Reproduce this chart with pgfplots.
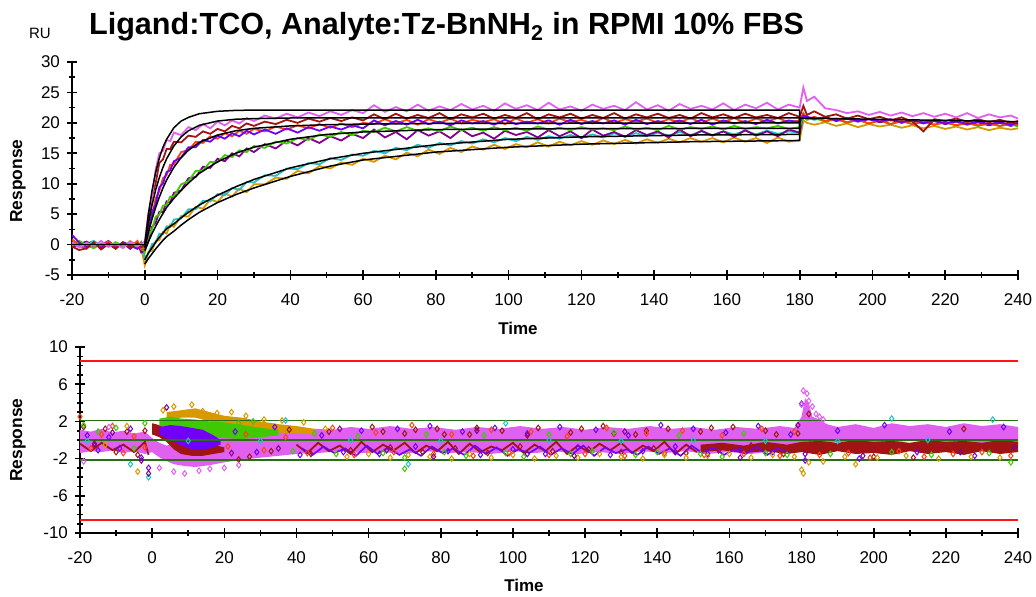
\documentclass[border=0pt]{standalone}
\usepackage{fontspec}
\setmainfont{Liberation Sans}
\usepackage{pgfplots}
\usepackage{pgfplotstable}
\pgfplotsset{compat=1.18}
\definecolor{cM}{RGB}{224,96,240}
\definecolor{cDR}{RGB}{160,20,20}
\definecolor{cRO}{RGB}{255,64,16}
\definecolor{cBV}{RGB}{112,0,248}
\definecolor{cG}{RGB}{64,200,0}
\definecolor{cP}{RGB}{128,0,144}
\definecolor{cC}{RGB}{32,192,200}
\definecolor{cGo}{RGB}{216,152,0}
\definecolor{cGL}{RGB}{40,110,20}
\definecolor{cRed}{RGB}{255,20,20}

\pgfplotstableread{
t M DR RO BV G P C Go
-20 0.4 -0.3 0.9 1.6 0.2 -0.5 0.3 -0.2
-18 -0.5 -0.9 -0.2 0.3 0.6 0.1 -0.4 0.5
-16 0.3 -0.6 -0.7 -0.4 -0.1 0.5 0.2 -0.3
-14 -0.2 0.4 0.3 0.1 -0.6 -0.3 0.6 0.2
-12 0.6 -0.8 -0.3 -0.5 0.2 -0.1 -0.2 -0.6
-10 -0.4 0.1 0.5 0.2 -0.3 0.6 0.1 0.3
-8 0.2 -0.7 -0.5 -0.6 0.4 -0.4 -0.5 -0.1
-6 -0.6 0.3 0.2 0.4 -0.2 0.2 0.4 -0.4
-4 0.5 -0.5 -0.4 -0.2 0.1 -0.7 -0.1 0.6
-2 -0.3 0.2 0.6 -0.7 -0.5 0.3 -0.3 -0.2
-1 0.1 -0.4 -0.8 0.2 0.4 -1.3 0.2 -0.5
0 0.5 -0.2 -0.8 -0.3 -1.3 -1.0 -2.2 -3.4
1 5.1 3.6 2.8 2.0 1.4 0.5 -1.5 -1.2
2 8.0 7.9 4.6 5.3 2.5 2.9 0.1 -1.0
3 12.3 10.1 7.6 6.6 4.6 3.6 0.3 0.6
4 15.0 13.4 8.8 9.4 4.9 5.4 1.8 0.7
5 15.4 14.0 10.9 10.0 6.4 5.3 1.7 2.1
6 17.2 15.7 11.4 11.9 6.5 7.1 3.0 1.8
7 17.0 15.7 13.1 12.2 7.9 6.9 2.9 3.3
8 18.4 16.9 13.2 13.7 7.9 8.5 4.1 2.9
10 18.0 16.8 15.2 14.3 9.9 8.9 4.3 4.7
12 19.3 17.9 15.5 16.0 10.4 10.9 5.8 4.6
14 18.8 17.7 16.9 16.0 12.1 11.1 5.8 6.2
16 19.8 18.6 16.7 17.2 12.2 12.8 7.2 5.9
18 19.1 18.2 17.8 16.9 13.6 12.6 7.1 7.4
20 20.2 19.0 17.4 17.9 13.5 14.1 8.3 7.0
22 19.6 18.6 18.3 17.4 14.7 13.7 8.1 8.4
24 20.4 19.5 17.8 18.3 14.4 15.0 9.3 7.9
26 19.9 19.1 18.7 17.8 15.5 14.5 9.0 9.2
28 20.8 19.9 18.2 18.7 15.2 15.8 10.3 8.6
30 20.3 19.5 19.0 18.1 16.2 15.2 10.2 9.9
33 21.2 20.2 18.6 18.9 15.9 16.5 11.4 9.9
36 20.7 19.8 19.4 18.2 16.9 15.8 11.3 11.0
39 21.5 20.5 18.9 19.1 16.6 17.1 12.5 10.8
42 20.9 20.0 19.6 18.4 17.5 16.3 12.4 12.1
45 21.7 20.7 19.1 19.3 17.2 17.5 13.4 11.7
48 21.1 20.2 19.8 18.7 18.1 16.7 13.2 12.9
51 21.9 20.8 19.2 19.4 17.7 17.8 14.2 12.5
54 21.3 20.3 19.9 18.9 18.5 17.1 13.9 13.5
57 22.1 20.9 19.3 19.6 18.0 18.2 14.8 13.1
60 21.6 20.4 20.0 19.1 18.7 17.5 14.6 14.1
63 22.9 21.4 19.8 20.4 18.5 18.9 15.4 13.6
66 21.8 20.6 20.6 19.6 19.2 17.6 15.0 14.6
69 22.6 21.5 19.9 20.3 18.6 18.5 15.9 14.0
72 21.9 20.7 20.5 19.7 19.3 17.3 15.5 15.1
75 23.0 21.3 19.7 20.5 18.7 18.8 16.4 14.5
78 22.0 20.8 20.6 19.8 19.1 17.9 15.9 15.6
81 22.7 21.6 20.0 20.2 18.6 18.6 16.7 14.9
84 22.1 20.6 20.7 19.6 19.4 17.5 16.3 15.9
87 23.1 21.4 19.9 20.4 18.8 18.9 17.0 15.2
90 22.2 20.9 20.5 19.9 19.2 17.8 16.6 16.1
93 22.8 21.5 20.1 20.3 18.7 18.4 17.3 15.6
96 22.0 20.7 20.6 19.7 19.3 17.4 16.8 16.4
99 23.2 21.3 19.8 20.5 18.8 18.7 17.5 15.7
102 22.3 20.8 20.7 19.8 19.2 18.0 17.0 16.5
105 22.9 21.6 20.0 20.2 18.7 18.5 17.7 16.0
108 22.1 20.6 20.6 19.9 19.4 17.6 17.2 16.8
111 23.3 21.4 19.9 20.4 18.9 18.8 17.8 16.1
114 22.2 20.9 20.7 19.7 19.2 17.8 17.4 16.9
117 22.7 21.5 20.1 20.5 18.8 18.6 18.0 16.3
120 22.0 20.7 20.5 19.8 19.3 17.5 17.5 17.0
123 23.0 21.3 19.9 20.3 18.9 18.9 18.1 16.4
126 22.3 20.8 20.8 19.9 19.1 17.9 17.6 17.1
129 22.8 21.6 20.0 20.4 18.8 18.5 18.3 16.5
132 22.1 20.7 20.6 19.7 19.4 17.7 17.8 17.2
135 23.4 21.4 20.2 20.5 18.9 18.8 18.3 16.6
138 22.2 20.9 20.7 19.8 19.2 18.0 17.8 17.3
141 22.9 21.5 20.0 20.3 18.8 18.6 18.4 16.7
144 22.0 20.8 20.6 19.9 19.5 17.6 17.9 17.4
147 23.1 21.3 20.1 20.4 18.9 18.9 18.5 16.8
150 22.3 20.7 20.8 19.8 19.3 17.8 18.0 17.5
153 22.8 21.6 20.0 20.5 19.0 18.7 18.6 16.9
156 22.2 20.9 20.7 19.7 19.4 17.9 18.0 17.5
159 23.2 21.4 20.1 20.4 18.9 18.6 18.6 16.8
162 22.1 20.8 20.8 19.9 19.5 17.7 18.1 17.6
165 23.0 21.5 20.0 20.3 19.0 18.8 18.7 16.9
168 22.4 20.9 20.7 19.8 19.3 17.9 18.1 17.5
171 23.3 21.3 20.2 20.5 19.1 18.6 18.7 16.7
174 22.2 20.8 20.8 19.9 19.5 17.8 18.2 17.6
177 23.0 21.6 20.1 20.4 19.0 18.9 18.6 16.9
180 22.5 21.0 20.4 20.1 19.3 18.4 18.4 17.2
181 25.8 22.8 21.6 21.2 21.0 21.4 21.0 20.4
182 23.6 21.3 20.6 21.0 20.5 20.8 20.8 20.0
184 24.3 21.9 21.0 20.7 20.8 20.6 20.5 19.7
187 22.4 21.0 20.3 20.9 20.2 20.9 20.9 20.1
190 22.1 21.4 20.7 20.4 20.6 20.3 20.4 19.5
193 21.6 20.7 20.1 20.8 20.0 20.7 20.7 19.9
196 21.9 21.2 20.5 20.3 20.5 20.2 20.3 19.3
199 21.3 20.6 19.9 20.7 19.9 20.6 20.6 19.8
202 21.8 21.0 20.4 20.2 20.4 20.1 20.2 19.4
205 21.2 20.4 19.8 20.6 19.8 20.5 20.5 19.7
208 21.7 20.9 20.3 20.1 20.3 20.0 20.1 19.2
211 21.1 20.2 19.8 20.5 19.8 20.4 20.4 19.6
214 21.6 18.6 20.2 20.0 20.2 19.9 20.0 19.1
217 21.0 20.6 19.7 20.4 19.7 20.3 20.3 19.5
220 21.5 20.3 20.1 19.9 20.1 19.8 19.9 19.0
223 20.9 20.7 19.6 20.3 19.6 20.2 20.2 19.4
226 21.6 20.2 20.0 19.8 20.0 19.7 19.8 18.9
229 20.8 20.6 19.6 20.2 19.5 20.1 20.1 19.3
232 21.4 20.1 19.9 19.8 19.9 19.6 19.7 18.8
235 20.9 20.5 19.5 20.1 19.5 20.0 20.0 19.2
238 21.2 20.0 19.8 19.7 19.8 19.5 19.6 18.9
240 20.7 20.3 19.6 20.0 19.4 19.8 19.8 19.1
}\sens

\pgfplotsset{
  myax/.style={
    scale only axis,
    axis x line=bottom, axis y line=left,
    axis line style={-, line width=1pt},
    tick align=center,
    major tick length=5pt, minor tick length=3pt,
    tick style={black, line width=0.8pt},
    /pgf/number format/assume math mode=true,
    tick label style={font=\fontsize{8.5}{10}\selectfont},
    xticklabel style={yshift=-3.5pt},
    xmin=-20, xmax=240,
    xtick={-20,0,...,240}, minor x tick num=1,
  },
  dat/.style={line width=0.9pt},
  fit/.style={black, line width=0.75pt},
  sc/.style={only marks, mark=diamond, mark size=1.4pt, mark options={line width=0.5pt}},
}

\begin{document}
\begin{tikzpicture}
\path[use as bounding box] (0,0) rectangle (518pt,298pt);

% ---------- top: sensorgram ----------
\begin{axis}[myax,
  at={(36pt,160.5pt)}, anchor=south west,
  width=473pt, height=106.5pt,
  ymin=-5, ymax=30, ytick={-5,0,...,30}, minor y tick num=1,
]
\addplot[dat, cGo] table[x=t, y=Go] {\sens};
\addplot[dat, cC] table[x=t, y=C] {\sens};
\addplot[dat, cP] table[x=t, y=P] {\sens};
\addplot[dat, cG] table[x=t, y=G] {\sens};
\addplot[dat, cRO] table[x=t, y=RO] {\sens};
\addplot[dat, cBV] table[x=t, y=BV] {\sens};
\addplot[dat, cDR] table[x=t, y=DR] {\sens};
\addplot[dat, cM] table[x=t, y=M] {\sens};
% fits
\addplot[fit] coordinates {(-20,0)(0,0)};
\addplot[fit] coordinates {(0,0)(1,5.0)(2,8.9)(3,11.9)(4,14.2)(5,16.0)(6,17.3)(8,19.2)(10,20.3)(12,20.9)(15,21.5)(20,21.9)(25,22.05)(30,22.1)(180,22.1)(180,20.8)};
\addplot[fit] coordinates {(0,0)(1,3.6)(2,6.5)(3,9.0)(4,11.0)(5,12.7)(6,14.1)(8,16.2)(10,17.7)(12,18.7)(15,19.6)(20,20.3)(25,20.6)(30,20.7)(40,20.8)(180,20.8)};
\addplot[fit] coordinates {(0,-0.5)(1,2.0)(2,4.2)(3,6.1)(4,7.8)(5,9.3)(6,10.6)(8,12.7)(10,14.3)(12,15.5)(15,16.8)(20,18.0)(25,18.7)(30,19.1)(40,19.5)(50,19.7)(60,19.8)(80,19.9)(180,20.0)(180,20.8)};
\addplot[fit] coordinates {(0,-1.0)(1,0.5)(2,1.8)(3,3.0)(4,4.1)(5,5.1)(6,6.1)(8,7.6)(10,8.9)(12,10.1)(15,11.7)(20,13.6)(25,15.0)(30,16.0)(40,17.3)(50,18.1)(60,18.5)(80,18.9)(100,19.0)(120,19.05)(180,19.1)(180,20.8)};
\addplot[fit] coordinates {(0,-2.5)(1,-1.4)(2,-0.5)(3,0.4)(4,1.2)(5,1.9)(6,2.6)(8,3.4)(10,4.4)(12,5.3)(15,6.5)(20,8.1)(25,9.5)(30,10.7)(40,12.6)(51,14.1)(60,15.0)(80,16.4)(100,17.3)(120,17.7)(150,18.0)(180,18.1)(180,20.8)};
\addplot[fit] coordinates {(0,-3.2)(1,-2.3)(2,-1.5)(3,-0.7)(4,0.0)(5,0.7)(6,1.3)(8,2.2)(10,3.2)(12,4.1)(15,5.3)(20,6.9)(25,8.2)(30,9.3)(40,11.2)(51,12.9)(60,13.9)(80,15.2)(100,16.0)(120,16.5)(150,16.9)(180,17.1)(180,20.8)};
\addplot[fit] coordinates {(180,20.8)(200,20.6)(220,20.4)(240,20.2)};
\end{axis}

% ---------- bottom: residuals ----------
\begin{axis}[myax,
  at={(40pt,31.5pt)}, anchor=south west,
  width=469pt, height=93pt,
  ymin=-10, ymax=10, ytick={-10,-6,-2,2,6,10}, minor y tick num=3,
]
% magenta band
\addplot[fill=cM, draw=none] coordinates {
(-20,1.1)(-17,0.9)(-14,1.2)(-11,0.8)(-8,1.0)(-5,0.7)(-2,0.9)(0,0.2)(2,-0.3)(4,-0.6)(6,-0.4)(9,-0.2)(12,0.1)(15,0.4)(18,0.7)(21,0.9)(25,0.8)(28,1.0)(32,0.8)(36,1.1)(40,0.9)(45,1.2)(50,1.1)(55,1.4)(60,1.2)(66,1.5)(72,1.2)(78,1.4)(84,1.1)(90,1.4)(96,1.2)(102,1.5)(108,1.2)(114,1.4)(120,1.1)(126,1.4)(132,1.2)(138,1.5)(144,1.2)(150,1.4)(156,1.1)(162,1.4)(168,1.2)(174,1.5)(178,1.3)(180,2.5)(181,4.5)(182,4.0)(183,2.5)(185,2.2)(187,1.7)(190,1.4)(195,1.7)(200,1.3)(205,1.8)(210,1.5)(215,1.7)(220,1.4)(225,1.8)(230,1.5)(235,1.7)(240,1.4)
(240,-0.3)(235,-0.1)(230,-0.4)(225,-0.2)(220,-0.3)(210,-0.1)(200,-0.4)(190,-0.2)(183,-0.5)(180,-1.0)(178,-1.4)(172,-1.2)(166,-1.5)(160,-1.3)(154,-1.5)(148,-1.2)(142,-1.4)(136,-1.2)(130,-1.5)(124,-1.3)(118,-1.5)(112,-1.2)(106,-1.4)(100,-1.2)(94,-1.5)(88,-1.3)(82,-1.4)(76,-1.2)(70,-1.5)(64,-1.3)(58,-1.4)(52,-1.2)(46,-1.4)(40,-1.5)(35,-1.7)(30,-1.9)(25,-2.1)(20,-2.4)(16,-2.7)(12,-2.9)(9,-2.8)(6,-2.6)(3,-2.1)(1,-1.6)(0,-1.3)(-2,-1.5)(-5,-1.2)(-8,-1.4)(-11,-1.1)(-14,-1.3)(-17,-1.2)(-20,-1.4)};
% dark red regions
\addplot[fill=cDR, draw=none] coordinates {(0,1.8)(2,1.6)(4,1.2)(6,0.6)(8,0.0)(11,-0.3)(14,-0.2)(17,-0.5)(20,-0.8)(20,-1.3)(17,-1.5)(14,-1.7)(11,-1.7)(8,-1.5)(6,-1.0)(4,-0.2)(2,0.3)(0,0.6)};
\addplot[fill=cDR, draw=none] coordinates {(152,-0.5)(158,-0.3)(164,-0.6)(170,-0.2)(176,-0.5)(180,-0.2)(185,-0.1)(190,-0.3)(195,0.0)(200,-0.2)(205,-0.1)(210,-0.3)(215,0.0)(220,-0.2)(225,-0.1)(230,-0.3)(235,0.0)(240,-0.2)(240,-1.3)(235,-1.5)(230,-1.2)(225,-1.6)(220,-1.3)(215,-1.5)(210,-1.2)(205,-1.6)(200,-1.4)(195,-1.5)(190,-1.2)(185,-1.6)(180,-1.3)(176,-1.5)(170,-1.2)(164,-1.4)(158,-1.1)(152,-1.3)};
% residual texture in the lower half
\addplot[cDR, line width=0.9pt] coordinates {(-20,-0.4)(-17,-1.2)(-14,-0.3)(-11,-1.1)(-8,-0.5)(-5,-1.3)(-2,-0.2)(-1,-1.6)};
\addplot[cDR, line width=0.9pt] coordinates {(40,-0.5)(43,-1.4)(46,-0.3)(49,-1.2)(52,-0.6)(55,-1.5)(58,-0.2)(61,-1.3)(64,-0.5)(67,-1.1)(70,-0.3)(73,-1.4)(76,-0.6)(79,-1.2)(82,-0.2)(85,-1.5)(88,-0.4)(91,-1.3)(94,-0.7)(97,-1.1)(100,-0.3)(103,-1.4)(106,-0.5)(109,-1.2)(112,-0.2)(115,-1.5)(118,-0.6)(121,-1.3)(124,-0.4)(127,-1.1)(130,-0.3)(133,-1.4)(136,-0.6)(139,-1.2)(142,-0.2)(145,-1.5)(148,-0.5)(151,-1.3)};
\addplot[cBV, line width=0.8pt] coordinates {(41.5,-0.9)(44.5,-1.6)(47.5,-0.7)(50.5,-1.4)(53.5,-0.9)(56.5,-1.7)(59.5,-0.6)(62.5,-1.5)(65.5,-0.8)(68.5,-1.6)(71.5,-1.0)(74.5,-1.7)(77.5,-0.7)(80.5,-1.4)(83.5,-0.9)(86.5,-1.6)(89.5,-0.6)(92.5,-1.5)(95.5,-0.8)(98.5,-1.7)(101.5,-1.0)(104.5,-1.4)(107.5,-0.7)(110.5,-1.6)(113.5,-0.9)(116.5,-1.5)(119.5,-0.6)(122.5,-1.7)(125.5,-0.8)(128.5,-1.4)(131.5,-1.0)(134.5,-1.6)(137.5,-0.7)(140.5,-1.5)(143.5,-0.9)(146.5,-1.7)(149.5,-0.6)(152.5,-1.4)(155.5,-0.8)(158.5,-1.6)(161.5,-1.0)(164.5,-1.5)(167.5,-0.7)(170.5,-1.6)(173.5,-0.9)(176.5,-1.4)};
% gold region
\addplot[fill=cGo, draw=none] coordinates {(4,3.0)(8,3.2)(12,3.4)(16,3.0)(20,2.6)(25,2.4)(30,2.0)(35,1.7)(40,1.5)(45,1.2)(45,0.6)(40,0.7)(35,0.8)(30,0.9)(25,1.0)(20,1.4)(16,2.0)(12,2.4)(8,2.4)(4,2.2)};
% green region
\addplot[fill=cG, draw=none] coordinates {(2,2.3)(5,2.5)(8,2.3)(12,2.2)(16,2.0)(20,1.9)(25,1.6)(30,1.3)(35,1.1)(35,0.5)(30,0.3)(25,0.1)(20,0.2)(16,0.3)(12,1.2)(8,1.3)(5,1.4)(2,1.5)};
% blue-violet region
\addplot[fill=cBV, draw=none] coordinates {(2,1.4)(5,1.6)(8,1.5)(11,1.3)(14,1.1)(17,0.5)(19,0.0)(19,-0.5)(16,-0.9)(13,-1.1)(10,-0.9)(7,-0.4)(4,0.2)(2,0.6)};
% scatter
\addplot[sc, cDR] coordinates {(-19,1.4)(-16,-0.6)(-13,1.2)(-10,-1.3)(-7,0.9)(-4,-1.6)(-2,1.0)(24,-2.1)(27,-1.8)(33,-1.2)(38,1.1)(44,-1.5)(49,0.9)(55,-1.1)(61,1.4)(64,0.9)(66,-0.8)(70,0.7)(73,1.1)(75,-1.3)(79,1.2)(81,0.6)(84,-0.9)(88,0.6)(90,1.3)(93,-1.4)(97,1.0)(102,-0.7)(104,0.5)(107,1.3)(111,-1.2)(116,0.8)(119,1.2)(121,-1.0)(125,1.5)(128,0.7)(130,-1.3)(134,0.6)(137,1.0)(139,-0.9)(143,1.2)(148,-1.4)(152,0.9)(155,1.3)(157,-1.1)(161,1.4)(166,-0.6)(170,1.0)(173,0.6)(175,-1.5)(179,0.7)(182,2.8)(200,-1.8)(211,-1.9)(225,1.2)};
\addplot[sc, cBV] coordinates {(-18,0.5)(-15,-1.1)(-12,0.3)(-9,-0.9)(-6,1.2)(-3,-1.9)(-1,-3.0)(23,0.9)(29,-1.3)(34,1.4)(41,-1.6)(47,0.5)(53,-1.3)(58,1.0)(63,-1.5)(68,1.2)(73,-0.7)(77,1.5)(82,-1.2)(86,0.9)(91,-1.6)(95,1.3)(100,-1.0)(104,0.7)(109,-1.5)(113,1.4)(118,-0.8)(123,1.1)(127,-1.6)(132,0.5)(136,-1.2)(141,1.6)(145,-0.7)(150,1.2)(154,-1.5)(159,0.8)(163,-1.1)(168,1.5)(172,-1.3)(177,0.6)(180,3.9)(181,-2.2)(190,1.0)(196,-2.0)(203,1.6)(212,-1.3)(221,0.9)(228,-1.7)(236,1.4)};
\addplot[sc, cRO] coordinates {(-20,2.5)(-17,-0.9)(-14,0.6)(-11,1.5)(-8,-1.4)(-5,0.4)(-2,-0.8)(21,-0.7)(26,0.6)(31,-1.1)(37,0.3)(43,-1.4)(50,1.3)(56,-1.6)(62,0.8)(67,-1.3)(72,1.6)(78,-1.5)(83,0.6)(89,-1.7)(94,1.1)(99,-1.4)(105,0.9)(110,-1.6)(115,0.4)(120,-1.5)(126,1.3)(131,-1.7)(137,0.7)(142,-1.4)(147,1.0)(153,-1.6)(158,0.5)(164,-1.5)(169,1.2)(174,-1.7)(178,0.9)(185,-1.6)(193,-1.4)(199,-1.9)(207,-1.2)(214,-1.8)(222,-1.5)(230,-1.3)(238,-1.7)};
\addplot[sc, cGo] coordinates {(-4,-3.4)(-7,1.5)(-13,-0.5)(3,3.2)(6,3.6)(11,3.8)(14,3.1)(18,2.9)(22,3.0)(26,2.6)(31,2.2)(36,2.1)(42,1.9)(48,1.2)(54,-1.8)(60,-1.5)(66,-1.9)(71,-1.6)(77,-1.8)(83,-2.0)(88,-1.5)(94,-1.9)(100,-1.6)(106,-2.0)(112,-1.7)(118,-1.9)(124,-1.5)(130,-1.8)(136,-2.0)(142,-1.6)(148,-1.9)(154,-1.7)(160,-1.5)(166,-1.9)(172,-1.6)(178,-1.8)(180,-3.2)(180.5,-3.6)(182,-2.4)(186,-2.3)(192,-1.8)(195,-2.6)(201,-1.9)(209,-1.7)(218,-2.0)(227,-1.8)(235,-1.9)};
\addplot[sc, cG] coordinates {(-19,1.6)(-15,0.9)(-10,1.3)(-5,-0.9)(-2,1.8)(24,1.8)(28,2.0)(33,0.8)(39,-1.2)(45,0.7)(51,-1.5)(57,0.4)(64,-1.4)(70,-1.9)(76,0.6)(81,-1.3)(87,-1.7)(92,0.5)(98,-1.4)(103,-1.8)(110,0.6)(116,-1.5)(122,-1.2)(128,0.8)(134,-1.6)(140,-1.3)(146,0.5)(152,-1.5)(158,-1.8)(164,0.7)(170,-1.4)(176,-1.6)(188,-1.5)(205,-1.3)(216,-1.6)(232,-1.4)(238,-2.4)(70,-3.1)};
\addplot[sc, cC] coordinates {(-18,-0.1)(-6,-2.6)(-1,-4.0)(10,-0.1)(30,-0.1)(37,2.1)(55,0.0)(71,-2.6)(80,-0.1)(98,1.8)(110,0.0)(130,-0.1)(150,0.0)(170,-0.1)(205,2.3)(233,2.2)(190,-0.1)(215,0.0)};
\addplot[sc, cP] coordinates {(-16,-0.4)(-11,0.8)(-3,-2.2)(-1,-3.6)(4,3.5)(22,-1.4)(35,-0.9)(52,1.2)(65,-1.1)(78,-1.8)(90,1.0)(104,-1.5)(117,-1.7)(131,0.9)(145,-1.3)(163,-1.9)(179,1.6)(181,-1.5)(197,-1.7)(224,-1.3)(239,-0.8)};
\addplot[sc, cM] coordinates {(2,-3.0)(6,-3.4)(9,-3.6)(13,-3.3)(16,-3.1)(20,-3.0)(24,-2.7)(180,3.8)(180.5,5.3)(181.5,5.0)(182,4.2)(183,3.6)(184,2.8)(185,2.5)(186,2.2)(-19,-2.3)(-12,1.4)};
% reference lines
\addplot[cRed, line width=0.9pt] coordinates {(-20,8.5)(240,8.5)};
\addplot[cRed, line width=0.9pt] coordinates {(-20,-8.6)(240,-8.6)};
\addplot[cGL, line width=0.9pt] coordinates {(-20,2.1)(240,2.1)};
\addplot[cGL, line width=0.9pt] coordinates {(-20,-2.15)(240,-2.15)};
\addplot[cGL, line width=0.7pt] coordinates {(-20,0)(240,0)};
\end{axis}

% ---------- text ----------
\node[anchor=base west, font=\bfseries\fontsize{15.3}{18}\selectfont] at (41pt,280.5pt) {Ligand:TCO, Analyte:Tz-BnNH\textsubscript{2} in RPMI 10\% FBS};
\node[font=\fontsize{7.5}{9}\selectfont] at (20pt,281.5pt) {RU};
\node[rotate=90, font=\bfseries\fontsize{8.7}{10}\selectfont] at (9pt,207.5pt) {Response};
\node[rotate=90, font=\bfseries\fontsize{8.7}{10}\selectfont] at (9pt,78pt) {Response};
\node[font=\bfseries\fontsize{8.5}{10}\selectfont] at (259pt,134pt) {Time};
\node[font=\bfseries\fontsize{8.5}{10}\selectfont] at (262pt,5.5pt) {Time};
\end{tikzpicture}
\end{document}
